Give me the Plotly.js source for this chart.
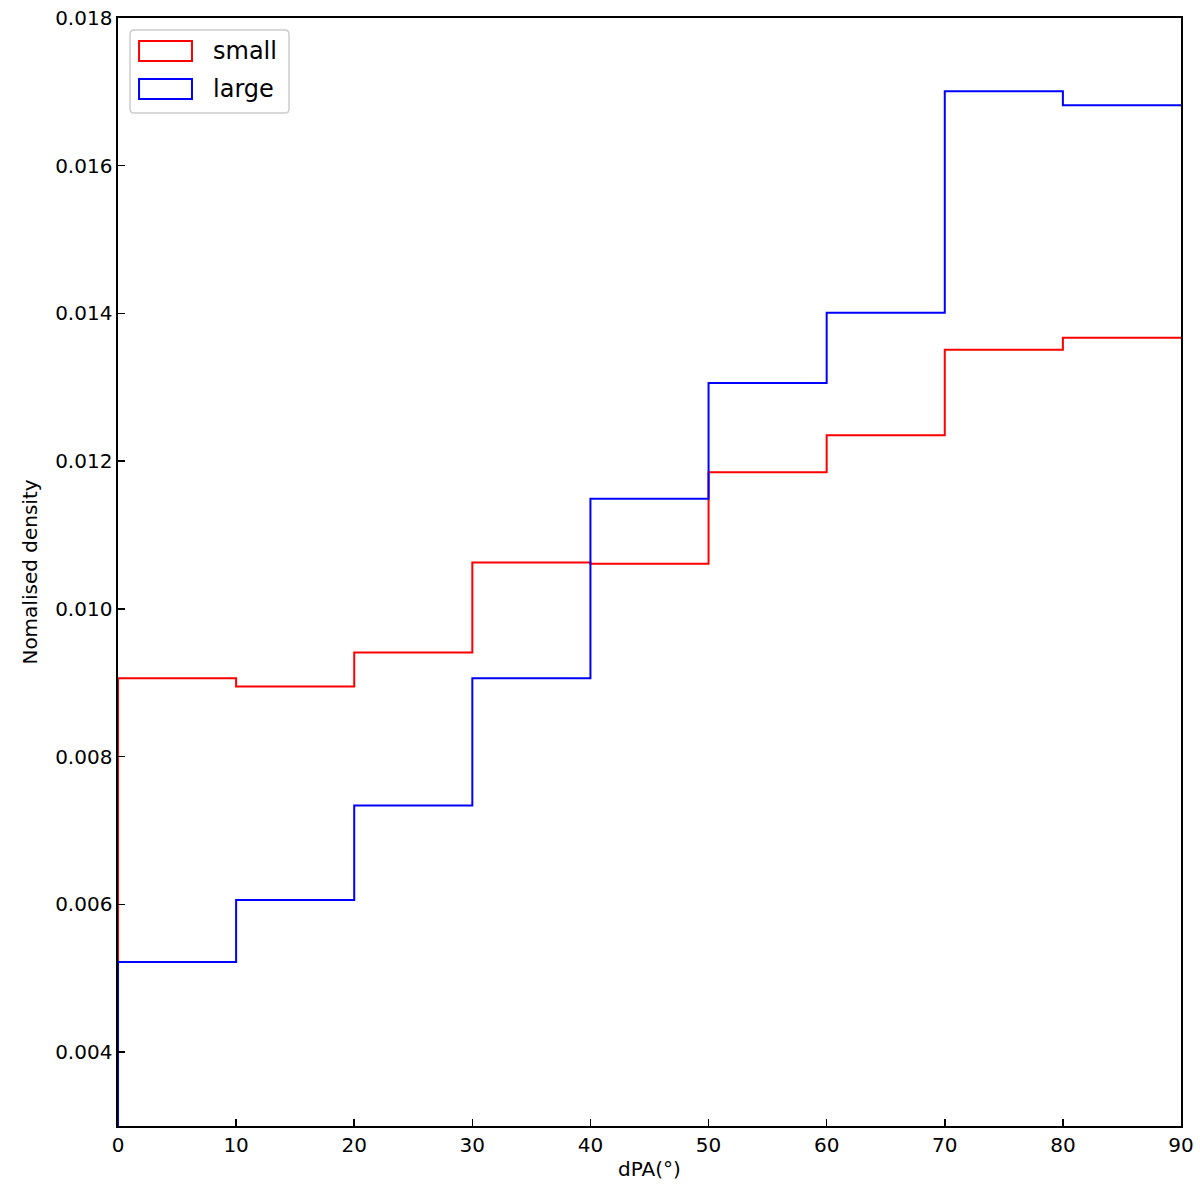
<!DOCTYPE html>
<html>
<head>
<meta charset="utf-8">
<script src="https://cdn.plot.ly/plotly-3.0.1.min.js"></script>
<style>html,body{margin:0;padding:0;background:#fff;}</style>
</head>
<body>
<div id="chart" style="width:1200px;height:1194px;"></div>
<script>
// Data
const binEdges = [0, 10, 20, 30, 40, 50, 60, 70, 80, 90];
const smallDensity = [0.00906, 0.00895, 0.00941, 0.01063, 0.01061, 0.01185, 0.01235, 0.01351, 0.01367];
const largeDensity = [0.00522, 0.00606, 0.00734, 0.00906, 0.01149, 0.01306, 0.01401, 0.01701, 0.01682];
const xTicks = [0, 10, 20, 30, 40, 50, 60, 70, 80, 90];
const yTicks = [0.004, 0.006, 0.008, 0.010, 0.012, 0.014, 0.016, 0.018];

function stepOutline(edges, vals) {
  // step histogram outline: up from 0 at the first edge, then across each bin
  const xs = [edges[0]];
  const ys = [0];
  for (let i = 0; i < vals.length; i++) { xs.push(edges[i]); ys.push(vals[i]); }
  xs.push(edges[edges.length - 1]); ys.push(vals[vals.length - 1]);
  return {x: xs, y: ys};
}

const s = stepOutline(binEdges, smallDensity);
const l = stepOutline(binEdges, largeDensity);

const traces = [
  {x: s.x, y: s.y, mode: 'lines', line: {shape: 'hv', color: '#ff0000', width: 2}, name: 'small', showlegend: false},
  {x: l.x, y: l.y, mode: 'lines', line: {shape: 'hv', color: '#0000ff', width: 2}, name: 'large', showlegend: false}
];

const font = 'DejaVu Sans, sans-serif';

function roundedRect(x0, y0, x1, y1, r) {
  return `M${x0 + r},${y0} L${x1 - r},${y0} Q${x1},${y0} ${x1},${y0 + r} L${x1},${y1 - r} Q${x1},${y1} ${x1 - r},${y1} L${x0 + r},${y1} Q${x0},${y1} ${x0},${y1 - r} L${x0},${y0 + r} Q${x0},${y0} ${x0 + r},${y0} Z`;
}

const layout = {
  width: 1200, height: 1194,
  margin: {l: 118, r: 19, t: 18, b: 68},
  paper_bgcolor: '#fff', plot_bgcolor: '#fff',
  font: {family: font, color: '#000', size: 20},
  showlegend: false,
  xaxis: {
    range: [0, 90], tickvals: xTicks, ticktext: xTicks.map(String),
    ticks: 'inside', ticklen: 7, tickwidth: 1.5, tickcolor: '#000',
    showline: true, linecolor: '#000', linewidth: 1.6, mirror: true, layer: 'above traces',
    showgrid: false, zeroline: false,
    tickfont: {family: font, size: 20, color: '#000'},
    title: {text: 'dPA(°)', font: {family: font, size: 20, color: '#000'}, standoff: 6}
  },
  yaxis: {
    range: [0.003, 0.018], tickvals: yTicks, ticktext: yTicks.map(v => v.toFixed(3)),
    ticks: 'inside', ticklen: 7, tickwidth: 1.5, tickcolor: '#000',
    showline: true, linecolor: '#000', linewidth: 1.6, mirror: true, layer: 'above traces',
    showgrid: false, zeroline: false,
    tickfont: {family: font, size: 20, color: '#000'},
    title: {text: 'Nomalised density', font: {family: font, size: 20, color: '#000'}, standoff: 12}
  },
  shapes: [
    {type: 'path', xref: 'paper', yref: 'paper',
     path: roundedRect(0.0113, 0.9142, 0.1609, 0.9892, 0.004),
     line: {color: '#cccccc', width: 1.5}, fillcolor: 'rgba(255,255,255,0.8)'},
    {type: 'rect', xref: 'paper', yref: 'paper', x0: 0.0198, x1: 0.0696, y0: 0.9612, y1: 0.9792,
     line: {color: '#ff0000', width: 2}, fillcolor: 'rgba(0,0,0,0)'},
    {type: 'rect', xref: 'paper', yref: 'paper', x0: 0.0198, x1: 0.0696, y0: 0.9269, y1: 0.9449,
     line: {color: '#0000ff', width: 2}, fillcolor: 'rgba(0,0,0,0)'}
  ],
  annotations: [
    {xref: 'paper', yref: 'paper', x: 0.0875, y: 0.9702, xanchor: 'left', yanchor: 'middle', text: 'small',
     showarrow: false, font: {family: font, size: 24, color: '#000'}},
    {xref: 'paper', yref: 'paper', x: 0.0875, y: 0.9359, xanchor: 'left', yanchor: 'middle', text: 'large',
     showarrow: false, font: {family: font, size: 24, color: '#000'}}
  ]
};

Plotly.newPlot('chart', traces, layout, {displayModeBar: false, staticPlot: true});
</script>
</body>
</html>
